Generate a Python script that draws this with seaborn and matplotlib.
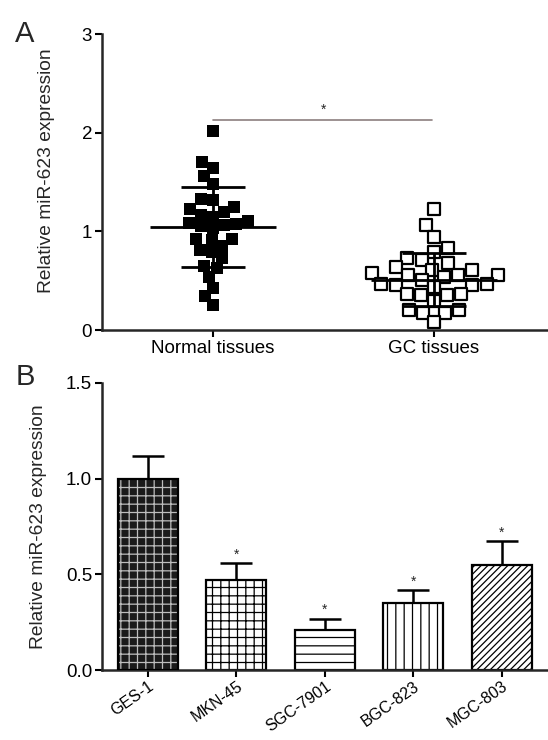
import numpy as np
import pandas as pd
import matplotlib
matplotlib.use('Agg')
import matplotlib.pyplot as plt
import seaborn as sns
from matplotlib.patches import Rectangle

# ---- data ----
groups = ['Normal tissues', 'GC tissues']
normal_vals = [2.02, 1.70, 1.64, 1.56, 1.48, 1.33, 1.32, 1.25, 1.20, 1.23, 1.17,
               1.15, 1.11, 1.08, 1.06, 1.03, 1.05, 1.07, 0.92, 0.91, 0.92, 0.85,
               0.81, 0.79, 0.73, 0.625, 0.65, 0.54, 0.43, 0.34, 0.25]
gc_vals = [1.23, 1.06, 0.945, 0.79, 0.83, 0.71, 0.675, 0.73, 0.64, 0.61, 0.61,
           0.54, 0.575, 0.56, 0.56, 0.56, 0.51, 0.46, 0.47, 0.47, 0.46, 0.44,
           0.37, 0.355, 0.355, 0.37, 0.29, 0.20, 0.17, 0.17, 0.20, 0.08]
group_means = [1.04, 0.51]
group_sds = [0.405, 0.27]

cell_lines = ['GES-1', 'MKN-45', 'SGC-7901', 'BGC-823', 'MGC-803']
bar_means = [1.0, 0.47, 0.21, 0.35, 0.55]
bar_errs = [0.12, 0.09, 0.06, 0.07, 0.125]
bar_sig = ['', '*', '*', '*', '*']
bar_hatches = ['++', '++', '--', '||', '/////']

sns.set_style('ticks')
plt.rcParams['font.family'] = ['Liberation Sans', 'DejaVu Sans']
plt.rcParams['hatch.linewidth'] = 0.9

fig = plt.figure(figsize=(5.48, 7.4), dpi=100)
ax1 = fig.add_axes([0.186, 0.554, 0.812, 0.400])
ax2 = fig.add_axes([0.186, 0.094, 0.812, 0.389])

# ---- panel A: scatter of tissues ----
df = pd.DataFrame({
    'group': [groups[0]] * len(normal_vals) + [groups[1]] * len(gc_vals),
    'value': normal_vals + gc_vals,
})
sns.swarmplot(data=df, x='group', y='value', order=groups, marker='s', size=8.3,
              color='black', linewidth=0, ax=ax1, zorder=2)
ax1.collections[0].set_facecolor('black')
ax1.collections[1].set_facecolor('white')
ax1.collections[1].set_edgecolor('black')
ax1.collections[1].set_linewidth(1.6)

for i, (m, s) in enumerate(zip(group_means, group_sds)):
    ax1.hlines(m, i - 0.285, i + 0.285, color='black', lw=2, zorder=3)
ax1.errorbar(range(len(groups)), group_means, yerr=group_sds, fmt='none',
             ecolor='black', elinewidth=2, capsize=23, capthick=2, zorder=3)

ax1.plot([0, 0.99], [2.13, 2.13], color='#8c7f7f', lw=1.2)
ax1.text(0.5, 2.16, '*', ha='center', va='bottom', fontsize=10)

ax1.set_xlim(-0.5, 1.51)
ax1.set_ylim(0, 3)
ax1.set_yticks([0, 1, 2, 3])
ax1.set_xlabel('')
ax1.set_ylabel('Relative miR-623 expression', fontsize=13.8)
ax1.yaxis.set_label_coords(-0.106, 0.54)
ax1.text(-0.195, 1.0, 'A', transform=ax1.transAxes, fontsize=21, va='center')

# ---- panel B: bar chart of cell lines ----
sns.barplot(x=cell_lines, y=bar_means, color='white', edgecolor='black',
            linewidth=1.6, width=0.68, errorbar=None, ax=ax2, zorder=2)
for p, h in zip(ax2.patches, bar_hatches):
    p.set_hatch(h)
# GES-1: dark fill with light pattern
p0 = ax2.patches[0]
p0.set_facecolor('#1a1a1a')
p0.set_edgecolor('#bdbdbd')
p0.set_linewidth(0)
ax2.add_patch(Rectangle(p0.get_xy(), p0.get_width(), p0.get_height(),
                        fill=False, edgecolor='black', lw=1.6, zorder=3))

ax2.errorbar(range(len(cell_lines)), bar_means,
             yerr=[np.zeros(len(bar_errs)), bar_errs], fmt='none',
             ecolor='black', elinewidth=1.8, capsize=11.5, capthick=1.8, zorder=1)
for i, (m, e, s) in enumerate(zip(bar_means, bar_errs, bar_sig)):
    if s:
        ax2.annotate(s, (i, m + e), xytext=(0, 1), textcoords='offset points',
                     ha='center', va='bottom', fontsize=10)

ax2.set_xlim(-0.52, 4.51)
ax2.set_ylim(0, 1.5)
ax2.set_yticks([0, 0.5, 1.0, 1.5])
ax2.set_yticklabels(['0.0', '0.5', '1.0', '1.5'])
ax2.set_ylabel('Relative miR-623 expression', fontsize=13.8)
ax2.yaxis.set_label_coords(-0.124, 0.5)
ax2.text(-0.195, 1.02, 'B', transform=ax2.transAxes, fontsize=21, va='center')

for ax in (ax1, ax2):
    sns.despine(ax=ax)
    ax.spines['left'].set_linewidth(1.8)
    ax.spines['bottom'].set_linewidth(1.8)
    ax.tick_params(axis='both', length=5, width=1.5, labelsize=13.5, pad=2,
                   color='black', labelcolor='black')

ax2.tick_params(axis='x', labelsize=11.5, pad=1)
plt.setp(ax2.get_xticklabels(), rotation=35, ha='right', va='top',
         rotation_mode='anchor')

fig.savefig('out.png', dpi=100)
